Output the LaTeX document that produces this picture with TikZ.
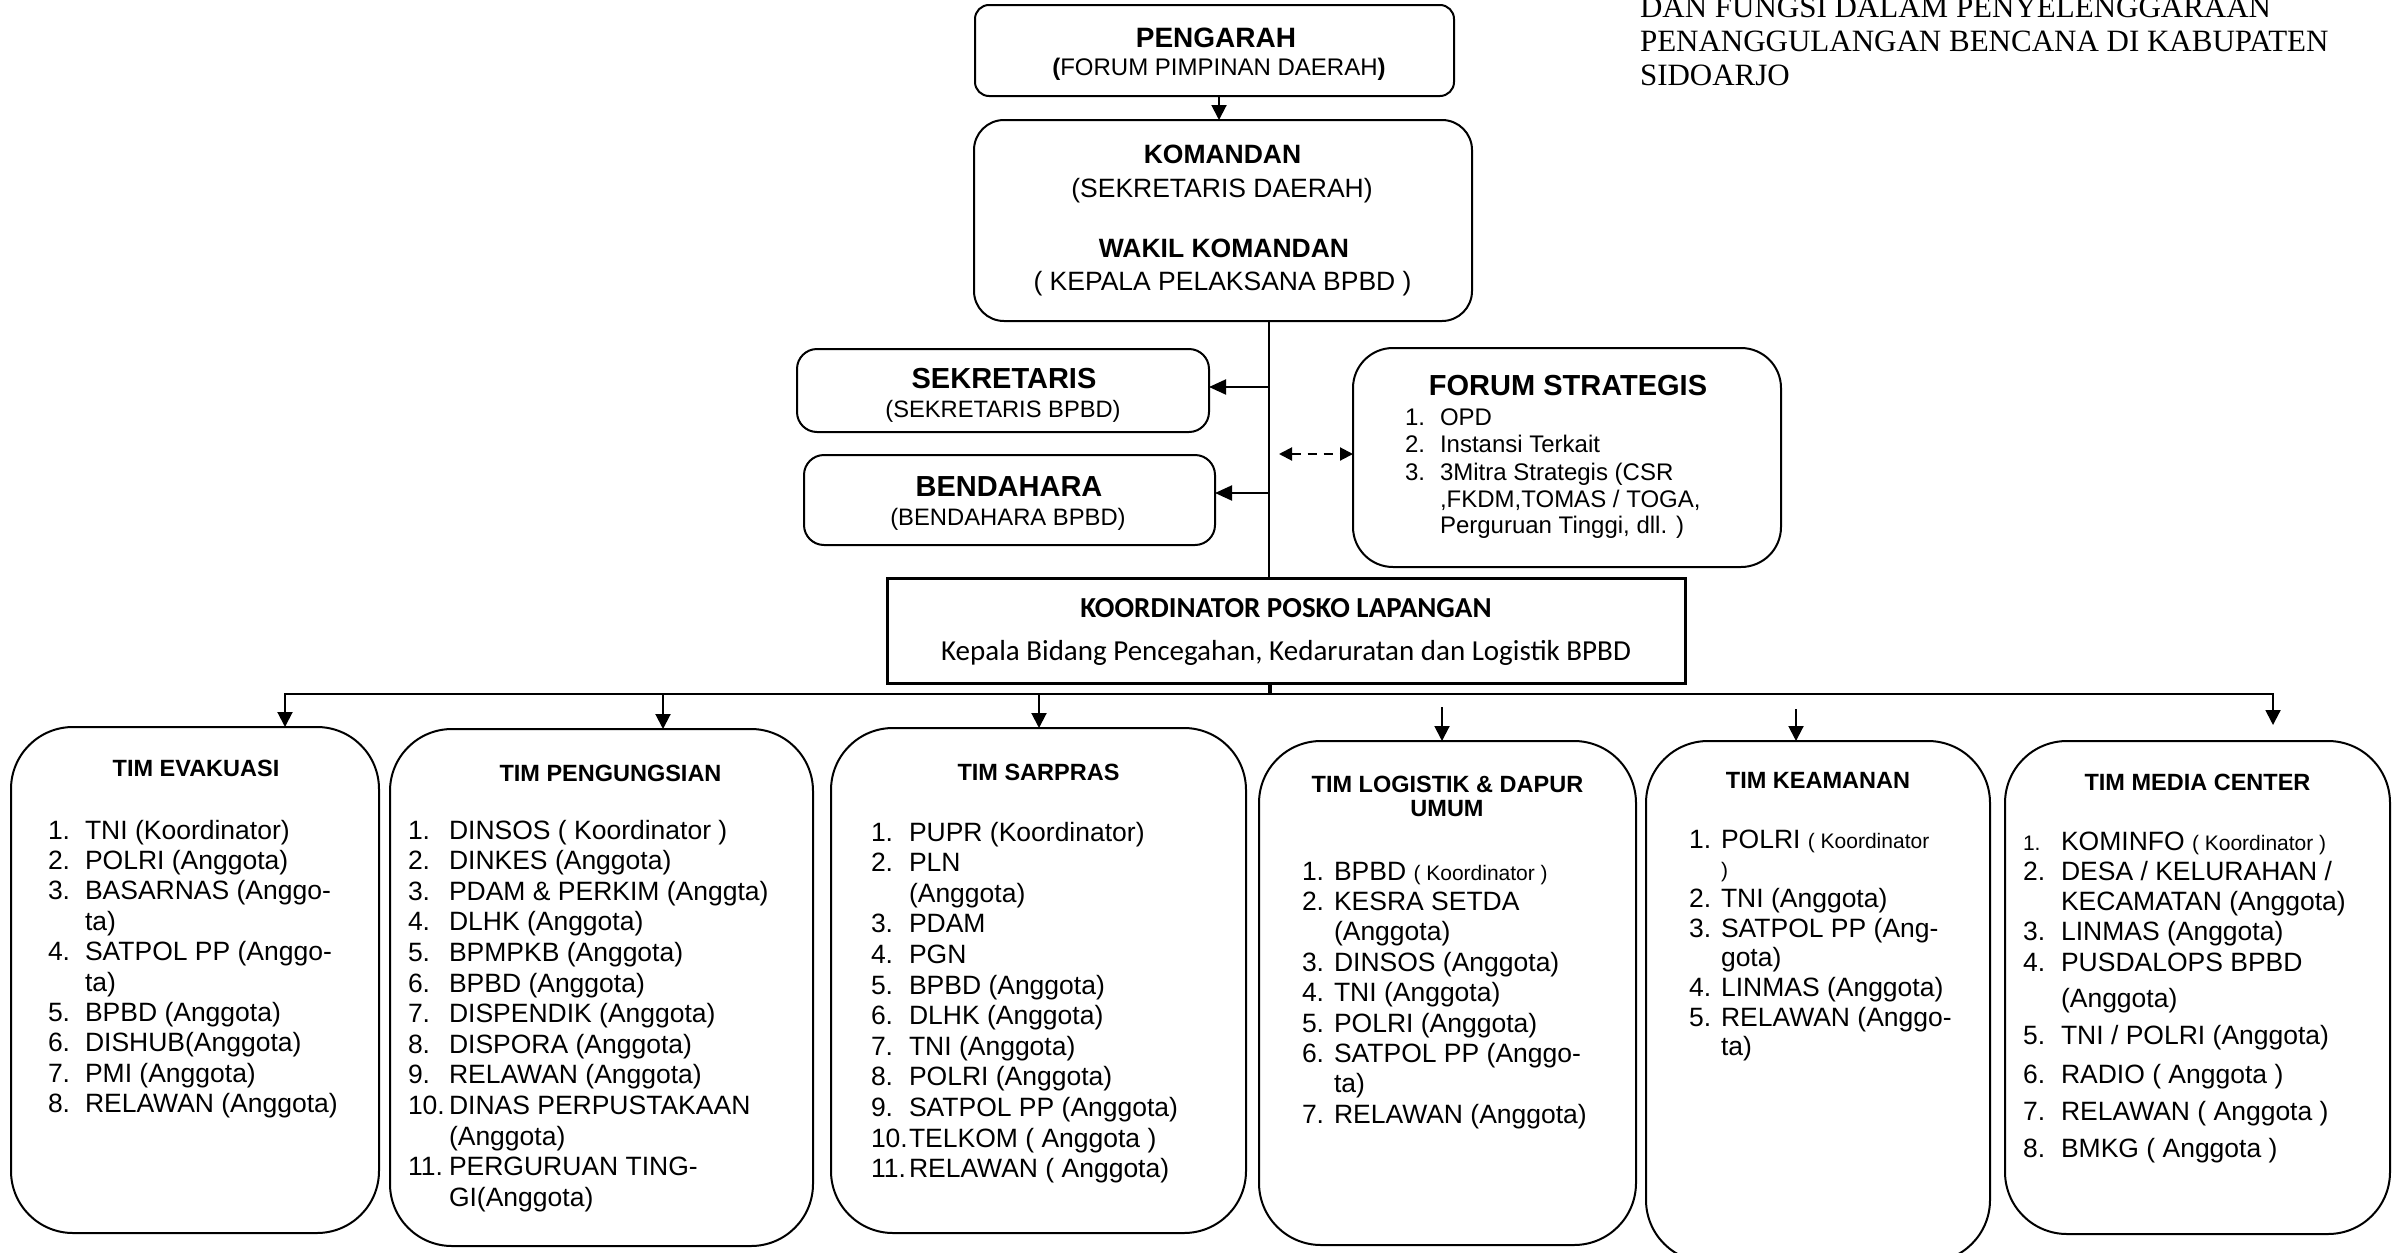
\documentclass[tikz,border=0pt]{standalone}
\usepackage{fontspec}
\setmainfont{Liberation Sans}
\newfontfamily\calibfont{Carlito}
\newfontfamily\titlefont{Liberation Serif}
\usetikzlibrary{arrows.meta}
\newcommand\myfs[1]{\fontsize{#1}{#1}\selectfont}
\begin{document}
\begin{tikzpicture}[x=1pt,y=-1pt,
  box/.style={draw, line width=2pt, inner sep=0pt, outer sep=0pt, rounded corners=#1},
  box/.default=62pt,
  itm/.style={anchor=base west, inner sep=0pt, outer sep=0pt, font=\myfs{26.5}},
  ctr/.style={anchor=base, inner sep=0pt, outer sep=0pt},
  hdr/.style={ctr, font=\bfseries\myfs{23.5}},
  arr/.style={line width=2pt, -{Triangle[width=15pt,length=15pt]}},
  harr/.style={line width=2pt, -{Triangle[width=15pt,length=17pt]}},
  darr/.style={line width=2pt, dash pattern=on 9pt off 7pt, {Triangle[width=13pt,length=13pt]}-{Triangle[width=13pt,length=13pt]}},
  ttl/.style={anchor=base west, inner sep=0pt, outer sep=0pt, font=\titlefont\myfs{31}},
]
\useasboundingbox (0,0) rectangle (2399,1253);
\clip (0,0) rectangle (2399,1253);

% ---------- boxes ----------
\node[box=14pt, minimum width=479pt, minimum height=91pt] (peng) at (1214.5,50.5) {};
\node[box=30pt, minimum width=498pt, minimum height=201pt] (kom) at (1223,220.5) {};
\node[box=20pt, minimum width=412pt, minimum height=83pt] (sek) at (1003,390.5) {};
\node[box=20pt, minimum width=411pt, minimum height=90pt] (ben) at (1009.5,500) {};
\node[box=40pt, minimum width=428pt, minimum height=219pt] (forum) at (1567,457.5) {};
\node[draw, line width=3pt, inner sep=0pt, outer sep=0pt, minimum width=798pt, minimum height=105pt] (koord) at (1286,630.5) {};
\node[box, minimum width=368pt, minimum height=506pt] (evak) at (195,980) {};
\node[box, minimum width=423pt, minimum height=517pt] (pngs) at (601.5,987.5) {};
\node[box, minimum width=415pt, minimum height=505pt] (sarp) at (1038.5,980.5) {};
\node[box, minimum width=377pt, minimum height=504pt] (logi) at (1447.5,993) {};
\node[box, minimum width=344pt, minimum height=521pt] (keam) at (1818,1001.5) {};
\node[box, minimum width=385pt, minimum height=493pt] (medi) at (2197.5,987.5) {};

% ---------- title ----------
\node[ttl] (ttl1) at (1640,17) {DAN FUNGSI DALAM PENYELENGGARAAN};
\node[ttl] (ttl2) at (1640,51) {PENANGGULANGAN BENCANA DI KABUPATEN};
\node[ttl] (ttl3) at (1640,85) {SIDOARJO};

% ---------- top texts ----------
\node[ctr, font=\bfseries\myfs{28}] (pengT) at (1216,47) {PENGARAH};
\node[ctr, font=\myfs{24}] (pengS) at (1219,75) {\textbf{(}FORUM PIMPINAN DAERAH\textbf{)}};
\node[ctr, font=\bfseries\myfs{26.5}] (komT) at (1222.5,163) {KOMANDAN};
\node[ctr, font=\myfs{26.5}] (komS) at (1222,197) {(SEKRETARIS DAERAH)};
\node[ctr, font=\bfseries\myfs{26.5}] (wakT) at (1224,257) {WAKIL KOMANDAN};
\node[ctr, font=\myfs{26.5}] (wakS) at (1222.5,290) {( KEPALA PELAKSANA BPBD )};
\node[ctr, font=\bfseries\myfs{29}] (sekT) at (1004,388) {SEKRETARIS};
\node[ctr, font=\myfs{23.7}] (sekS) at (1003,417) {(SEKRETARIS BPBD)};
\node[ctr, font=\bfseries\myfs{29}] (benT) at (1009,496) {BENDAHARA};
\node[ctr, font=\myfs{23.8}] (benS) at (1008,525) {(BENDAHARA BPBD)};
\node[ctr, font=\bfseries\myfs{29}] (forT) at (1568,395) {FORUM STRATEGIS};
\foreach \nm/\tx/\yy [count=\i] in {1./OPD/425, 2./Instansi Terkait/452, 3./3Mitra Strategis (CSR/480, {}/{,FKDM,TOMAS / TOGA,}/507, {}/{Perguruan Tinggi, dll. )}/533}{
  \node[itm, font=\myfs{24}] (fon\i) at (1405,\yy) {\nm};
  \node[itm, font=\myfs{24}] (fot\i) at (1440,\yy) {\tx};
}
\node[ctr, font=\calibfont\bfseries\myfs{29}] (koT) at (1286,617) {KOORDINATOR POSKO LAPANGAN};
\node[ctr, font=\calibfont\myfs{29}] (koS) at (1286,660) {Kepala Bidang Pencegahan, Kedaruratan dan Logistik BPBD};

% ---------- team headers ----------
\node[hdr] (evH) at (196,776) {TIM EVAKUASI};
\node[hdr] (pgH) at (610.5,781) {TIM PENGUNGSIAN};
\node[hdr] (saH) at (1038.5,780) {TIM SARPRAS};
\node[hdr] (loH1) at (1447.5,792) {TIM LOGISTIK \& DAPUR};
\node[hdr] (loH2) at (1447,816) {UMUM};
\node[hdr] (keH) at (1818,788) {TIM KEAMANAN};
\node[hdr] (meH) at (2197.5,790) {TIM MEDIA CENTER};

% ---------- team lists ----------
\foreach \nm/\tx [count=\i] in {1./TNI (Koordinator), 2./POLRI (Anggota), 3./BASARNAS (Anggo-, {}/ta), 4./SATPOL PP (Anggo-, {}/ta), 5./BPBD (Anggota), 6./DISHUB(Anggota), 7./PMI (Anggota), 8./RELAWAN (Anggota)}{
  \node[itm] (evn\i) at (48,{839+30.4*(\i-1)}) {\nm};
  \node[itm] (evt\i) at (85,{839+30.4*(\i-1)}) {\tx};
}
\foreach \nm/\tx [count=\i] in {1./DINSOS ( Koordinator ), 2./DINKES (Anggota), 3./PDAM \& PERKIM (Anggta), 4./DLHK (Anggota), 5./BPMPKB (Anggota), 6./BPBD (Anggota), 7./DISPENDIK (Anggota), 8./DISPORA (Anggota), 9./RELAWAN (Anggota), 10./DINAS PERPUSTAKAAN, {}/(Anggota), 11./PERGURUAN TING-, {}/GI(Anggota)}{
  \node[itm] (pgn\i) at (408,{839+30.6*(\i-1)}) {\nm};
  \node[itm] (pgt\i) at (449,{839+30.6*(\i-1)}) {\tx};
}
\foreach \nm/\tx [count=\i] in {1./PUPR (Koordinator), 2./PLN, {}/(Anggota), 3./PDAM, 4./PGN, 5./BPBD (Anggota), 6./DLHK (Anggota), 7./TNI (Anggota), 8./POLRI (Anggota), 9./SATPOL PP (Anggota), 10./TELKOM ( Anggota ), 11./RELAWAN ( Anggota)}{
  \node[itm] (san\i) at (871,{841+30.6*(\i-1)}) {\nm};
  \node[itm] (sat\i) at (909,{841+30.6*(\i-1)}) {\tx};
}
\foreach \nm/\tx [count=\i] in {1./BPBD {\myfs{21}( Koordinator )}, 2./KESRA SETDA, {}/(Anggota), 3./DINSOS (Anggota), 4./TNI (Anggota), 5./POLRI (Anggota), 6./SATPOL PP (Anggo-, {}/ta), 7./RELAWAN (Anggota)}{
  \node[itm] (lon\i) at (1302,{880+30.4*(\i-1)}) {\nm};
  \node[itm] (lot\i) at (1334,{880+30.4*(\i-1)}) {\tx};
}
\foreach \nm/\tx [count=\i] in {1./POLRI {\myfs{21}( Koordinator}, {}/{\myfs{21})}, 2./TNI (Anggota), 3./SATPOL PP (Ang-, {}/gota), 4./LINMAS (Anggota), 5./RELAWAN (Anggo-, {}/ta)}{
  \node[itm] (ken\i) at (1689,{848+29.7*(\i-1)}) {\nm};
  \node[itm] (ket\i) at (1721,{848+29.7*(\i-1)}) {\tx};
}
\foreach \nm/\tx/\yy [count=\i] in {{\myfs{21}1.}/KOMINFO {\myfs{21}( Koordinator )}/850, 2./{DESA / KELURAHAN /}/880, {}/KECAMATAN (Anggota)/910, 3./LINMAS (Anggota)/940, 4./PUSDALOPS BPBD/971, {}/(Anggota)/1007, 5./{TNI / POLRI (Anggota)}/1044, 6./RADIO ( Anggota )/1083, 7./RELAWAN ( Anggota )/1120, 8./BMKG ( Anggota )/1157}{
  \node[itm] (men\i) at (2023,\yy) {\nm};
  \node[itm] (met\i) at (2061,\yy) {\tx};
}

% ---------- connectors ----------
\coordinate (pa) at (1219,0);
\draw[arr] (peng.south -| pa) -- (kom.north -| pa);
\coordinate (spine) at (1269,0);
\draw[line width=2pt] (kom.south -| spine) -- (koord.north -| spine);
\coordinate (sekA) at (1269,387);
\draw[harr] (sekA) -- (sekA -| sek.east);
\coordinate (benA) at (1269,493);
\draw[harr] (benA) -- (benA -| ben.east);
\coordinate (dA) at (1279,454);
\draw[darr] (dA) -- (dA -| forum.west);
\coordinate (busL) at (285,694);
\coordinate (busR) at (2273,694);
\coordinate (busM) at (1270,694);
\draw[line width=4.5pt] (koord.south -| busM) -- (busM);
\draw[line width=2.5pt, line cap=rect] (busL) -- (busR);
\draw[arr] (busL) -- (evak.north -| busL);
\coordinate (bP) at (663,694);
\draw[arr] (bP) -- (pngs.north -| bP);
\coordinate (bS) at (1039,694);
\draw[arr] (bS) -- (sarp.north -| bS);
\coordinate (bL) at (1442,707);
\draw[arr] (bL) -- (logi.north -| bL);
\coordinate (bK) at (1796,709);
\draw[arr] (bK) -- (keam.north -| bK);
\coordinate (bM) at (2273,725);
\draw[arr] (busR) -- (bM);
\end{tikzpicture}
\end{document}
